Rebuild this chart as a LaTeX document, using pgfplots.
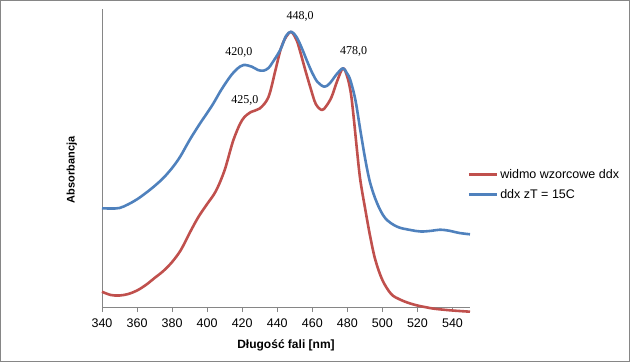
\documentclass[border=0pt]{standalone}
\usepackage{fontspec}
\setmainfont{Liberation Sans}
\newfontfamily\seriffont{Liberation Serif}
\usepackage{pgfplots}
\pgfplotsset{compat=1.18}
\definecolor{xred}{HTML}{C0504D}
\definecolor{xblue}{HTML}{4F81BD}
\definecolor{xgray}{HTML}{868686}
\begin{document}
\begin{tikzpicture}
\draw[xgray, line width=1bp] (0.5bp,0.5bp) rectangle (629.5bp,361.5bp);
\begin{axis}[
  at={(102bp,55bp)}, anchor=south west,
  scale only axis, width=368bp, height=298bp,
  xmin=340, xmax=550, ymin=0, ymax=298,
  clip=false,
  axis x line=bottom, axis y line=left,
  axis line style={-, draw=xgray, line width=0.8bp},
  xtick={340,360,...,540}, ytick=\empty,
  tick align=outside, major tick length=5bp,
  xtick style={draw=xgray, line width=0.8bp},
  /pgf/number format/assume math mode=true,
  ticklabel style={font=\fontsize{12.5bp}{15bp}\selectfont},
  xticklabel style={yshift=-3.5bp},
  xlabel={Długość fali [nm]},
  xlabel style={at={(axis description cs:0.5,-0.1275)}, anchor=center, font=\bfseries\fontsize{12bp}{14bp}\selectfont},
  ylabel={Absorbancja},
  ylabel style={at={(axis description cs:-0.0823,0.46)}, anchor=center, rotate=0, font=\bfseries\fontsize{11bp}{13bp}\selectfont},
  legend style={at={(axis description cs:0.992,0.47)}, anchor=north west, draw=none, fill=none, inner sep=0pt,
    font=\fontsize{12.5bp}{15bp}\selectfont, row sep=6bp, cells={anchor=west}},
  legend image code/.code={\draw[#1, line width=3bp] (0bp,0bp) -- (28bp,0bp);},
  every axis plot/.append style={line width=2.6bp, smooth, tension=0.55, line join=round},
]
\addplot[xred] coordinates {
(340,15.3)(345,12)(350,11.5)(355,13)(360,16.5)(365,22)(370,29)(375,36)(380,45)(385,57)(390,74)(395,90)(400,103)(405,116)(410,137)(415,167)(420,187)(425,195)(430,198.5)(435,210)(439,237)(442,258)(445,270)(448,275)(451,267)(453,256)(456,237)(459,219)(462,203)(465.5,197)(468,201)(471,210)(474,225)(477.5,238.7)(480,230)(482,214)(483.6,190)(485.5,157)(487.4,127)(490.3,97)(493.1,70)(496,47)(500,27)(505,13)(510,7.5)(515,4)(520,1.5)(525,-0.3)(530,-1.8)(540,-3.5)(550,-4.7)
};
\addlegendentry{widmo wzorcowe ddx}
\addplot[xblue] coordinates {
(340,98.7)(345,98.5)(350,99)(355,102.7)(360,107.7)(365,114)(370,121)(375,129)(380,139)(384.6,150.3)(390,167)(396,183.7)(400,194)(403.6,203.7)(408,217)(413.1,230.3)(417,238)(420.8,242)(425.5,240.3)(429,237)(432.2,236.3)(435,239)(437,243.7)(441.7,257)(445,271)(448,275.3)(451,270)(454,259)(457,246)(460,234)(463,225)(466.9,220.3)(470,223.7)(474,233)(477.5,238.7)(479.7,234)(481.7,227)(484.6,207)(487.4,177)(490.3,147)(493.1,123.7)(497,103.7)(501.7,88.7)(508.4,80.3)(516,77)(522,75.5)(528,76.2)(533,77.3)(538,76.3)(544,74)(550,72.7)
};
\addlegendentry{ddx zT = 15C}
\node[font=\seriffont\fontsize{12bp}{14bp}\selectfont] at (axis cs:453.0,291) {448,0};
\node[font=\seriffont\fontsize{12bp}{14bp}\selectfont] at (axis cs:418.1,255) {420,0};
\node[font=\seriffont\fontsize{12bp}{14bp}\selectfont] at (axis cs:483.6,255.3) {478,0};
\node[font=\seriffont\fontsize{12bp}{14bp}\selectfont] at (axis cs:421.5,206.5) {425,0};
\end{axis}
\end{tikzpicture}
\end{document}
